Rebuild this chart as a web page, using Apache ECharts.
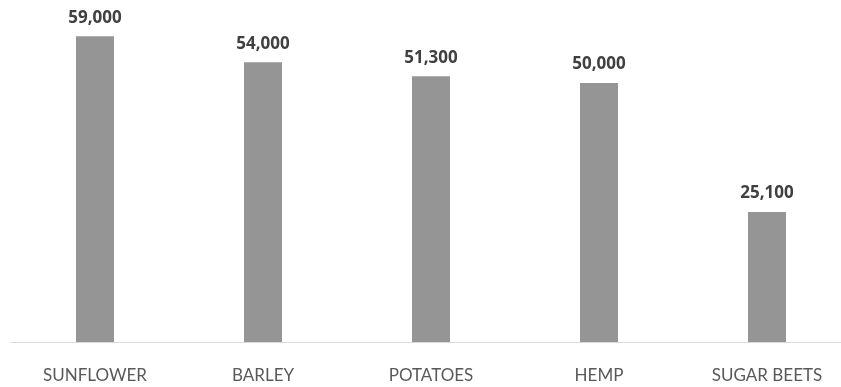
<!DOCTYPE html>
<html>
<head>
<meta charset="utf-8">
<script src="https://cdn.jsdelivr.net/npm/echarts@6/dist/echarts.min.js"></script>
<style>
  html, body { margin: 0; padding: 0; background: #fff; overflow: hidden; }
  #chart { width: 851px; height: 387px; }
</style>
</head>
<body>
<div id="chart"></div>
<script>
const crops = ['SUNFLOWER', 'BARLEY', 'POTATOES', 'HEMP', 'SUGAR BEETS'];
const yields = [59000, 54000, 51300, 50000, 25100];

const chart = echarts.init(document.getElementById('chart'));
chart.setOption({
  animation: false,
  grid: { left: 11, top: 0, right: 0, bottom: 45, containLabel: false },
  xAxis: {
    type: 'category',
    data: crops,
    axisLine: { lineStyle: { color: '#d9d9d9', width: 1 } },
    axisTick: { show: false },
    axisLabel: { color: '#595959', fontFamily: 'Lato', fontSize: 17, margin: 25 }
  },
  yAxis: {
    type: 'value',
    min: 0,
    max: 66000,
    show: false,
    splitLine: { show: false }
  },
  series: [{
    type: 'bar',
    data: yields,
    barWidth: 38,
    itemStyle: { color: '#959595' },
    label: {
      show: true,
      position: 'top',
      distance: 10,
      color: '#404040',
      fontFamily: 'Open Sans',
      fontWeight: 'bold',
      fontSize: 17,
      formatter: p => p.value.toLocaleString('en-US')
    }
  }]
});
</script>
</body>
</html>
